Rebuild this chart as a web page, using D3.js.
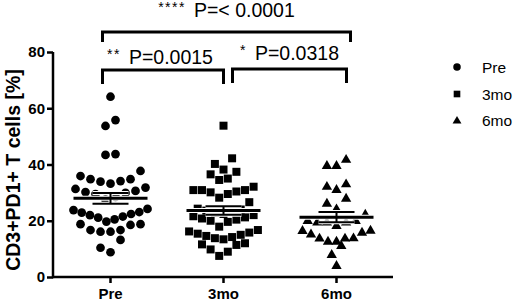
<!DOCTYPE html>
<html><head><meta charset="utf-8">
<script src="https://cdn.jsdelivr.net/npm/d3@7"></script>
<style>body{margin:0;background:#fff}svg{display:block}text{font-family:"Liberation Sans",Arial,sans-serif}</style>
</head><body><svg id="c" width="520" height="303"></svg>
<script>
const categories = ["Pre", "3mo", "6mo"];
const preValues = [64.1, 55.8, 53.7, 43.7, 43.4, 37.7, 35.9, 34.8, 34.8, 34.1, 33.9, 33.2, 31.8, 31.3, 30.6, 30.2, 29.9, 29.5, 28.5, 27.5, 24.2, 23.8, 23.1, 22.9, 22.4, 22.0, 21.5, 21.1, 20.5, 19.7, 18.8, 18.8, 18.5, 16.7, 16.7, 16.1, 16.1, 13.2, 10.4, 8.8];
const mo3Values = [53.8, 42.2, 40.2, 38.2, 37.4, 36.5, 35.0, 34.5, 32.1, 30.9, 30.9, 30.9, 30.4, 30.1, 29.5, 28.2, 26.6, 24.3, 24.0, 23.6, 23.2, 22.8, 22.4, 22.0, 21.6, 21.2, 20.8, 20.4, 20.0, 19.6, 17.9, 16.7, 16.2, 15.8, 15.4, 15.0, 14.6, 14.2, 13.8, 13.4, 12.0, 11.6, 11.4, 9.8, 9.0, 7.5];
const mo6Values = [42.0, 39.8, 39.8, 33.3, 32.4, 31.3, 28.2, 26.4, 24.4, 22.5, 20.3, 20.3, 19.7, 19.7, 19.7, 18.5, 16.8, 16.7, 16.1, 15.5, 14.1, 14.0, 14.0, 12.9, 12.9, 11.4, 8.2, 4.3];
const seriesValues = [preValues, mo3Values, mo6Values];
const shapes = ["circle", "square", "triangle"];
const yTicks = [0, 20, 40, 60, 80];
const yTitle = "CD3+PD1+ T cells [%]";
const compFrom = ["Pre", "Pre", "3mo"];
const compTo = ["6mo", "3mo", "6mo"];
const compStars = ["****", "**", "*"];
const compLabels = ["P=< 0.0001", "P=0.0015", "P=0.0318"];

const svg = d3.select("#c");
const font = '"Liberation Sans", Arial, sans-serif';
const x = d3.scaleBand().domain(categories).range([54, 393]);
const cx = c => x(c) + x.bandwidth() / 2;
const y = d3.scaleLinear().domain([0, 80]).range([277, 52]);

const symType = {circle: d3.symbolCircle, square: d3.symbolSquare, triangle: d3.symbolTriangle};
const symSize = {circle: 60, square: 64, triangle: 46};
const spacing = {circle: 10, square: 8.6, triangle: 9.6};
const maxSpan = {circle: 74, square: 74, triangle: 68};

// axes
const yAxis = svg.append("g").attr("transform", "translate(53,0)")
  .call(d3.axisLeft(y).tickValues(yTicks).tickSize(6).tickPadding(2).tickSizeOuter(0));
const xAxis = svg.append("g").attr("transform", "translate(0,277)")
  .call(d3.axisBottom(x).tickSize(6).tickPadding(4).tickSizeOuter(0));
[yAxis, xAxis].forEach(a => {
  a.selectAll("path,line").attr("stroke", "#000").attr("stroke-width", 2.5);
  a.selectAll("text").attr("fill", "#000").attr("font-family", font).attr("font-weight", "bold").attr("font-size", 15);
});
xAxis.select("path.domain").attr("d", "M53,0H393");
yAxis.select("path.domain").attr("d", "M0,52V278.2");
xAxis.selectAll("text").attr("dy", "0.8em");

svg.append("text").attr("transform", "translate(19.5,170) rotate(-90)")
  .attr("text-anchor", "middle").attr("font-family", font).attr("font-weight", "bold")
  .attr("font-size", 19.5).text(yTitle);

// Prism-like row scatter: group close values into rows, smallest in the middle
function rows(values, center, shape) {
  const binH = 4.5;
  const sorted = values.slice().sort((a, b) => b - a);
  const groups = [];
  sorted.forEach(v => {
    const g = groups[groups.length - 1];
    if (g && g[0] - v <= binH) g.push(v); else groups.push([v]);
  });
  const out = [];
  groups.forEach(g => {
    const n = g.length;
    const sp = n > 1 ? Math.min(spacing[shape], maxSpan[shape] / (n - 1)) : 0;
    const slots = d3.range(n).map(j => (j - (n - 1) / 2) * sp)
      .sort((a, b) => Math.abs(a) - Math.abs(b) || a - b);
    const asc = g.slice().sort((a, b) => a - b);
    asc.forEach((v, k) => out.push({v, px: center + slots[k], py: y(v)}));
  });
  return out;
}

categories.forEach((c, i) => {
  const shape = shapes[i];
  const pts = rows(seriesValues[i], cx(c), shape);
  const sym = d3.symbol().type(symType[shape]).size(symSize[shape]);
  svg.append("g").selectAll("path").data(pts).join("path")
    .attr("d", sym).attr("transform", d => `translate(${d.px},${d.py + (shape === "triangle" ? 1 : 0)})`)
    .attr("fill", "#000");
  const vals = seriesValues[i];
  const m = d3.mean(vals), sem = d3.deviation(vals) / Math.sqrt(vals.length);
  const g = svg.append("g");
  const cxx = cx(c);
  const segs = [
    [cxx - 37, y(m), cxx + 37, y(m), 3],
    [cxx - 18, y(m + sem), cxx + 18, y(m + sem), 2],
    [cxx - 18, y(m - sem), cxx + 18, y(m - sem), 2],
    [cxx, y(m + sem), cxx, y(m - sem), 2]
  ];
  segs.forEach(s => g.append("line").attr("x1", s[0]).attr("y1", s[1]).attr("x2", s[2]).attr("y2", s[3])
    .attr("stroke", "#fff").attr("stroke-width", s[4] + 2));
  segs.forEach(s => g.append("line").attr("x1", s[0]).attr("y1", s[1]).attr("x2", s[2]).attr("y2", s[3])
    .attr("stroke", "#000").attr("stroke-width", s[4]));
});

// significance brackets
const bracketY = [32, 70, 69];
const bracketDrop = [10, 14, 14];
const bracketInset = [[-8, 14], [-8, 0], [9, 10]];
const labelY = [17, 64, 60];
const labelShift = [0, -3, 0];
compFrom.forEach((f, i) => {
  const x1 = cx(f) + bracketInset[i][0], x2 = cx(compTo[i]) + bracketInset[i][1];
  const yy = bracketY[i];
  svg.append("path").attr("d", `M${x1},${yy + bracketDrop[i]}V${yy}H${x2}V${yy + bracketDrop[i]}`)
    .attr("fill", "none").attr("stroke", "#000").attr("stroke-width", 3);
  const t = svg.append("text").attr("x", (x1 + x2) / 2 + labelShift[i]).attr("y", labelY[i])
    .attr("text-anchor", "middle").attr("font-family", font).attr("font-size", 19.5).attr("fill", "#000");
  t.append("tspan").attr("font-size", 14).attr("letter-spacing", 1.5).attr("dy", -5).text(compStars[i]);
  t.append("tspan").attr("dy", 5).attr("dx", 8).text(compLabels[i]);
});

// legend
const legY = [67, 94, 120];
categories.forEach((c, i) => {
  svg.append("path").attr("d", d3.symbol().type(symType[shapes[i]]).size(i === 2 ? 34 : 44)())
    .attr("transform", `translate(457,${legY[i] + (i === 2 ? 1 : 0)})`).attr("fill", "#000");
  svg.append("text").attr("x", 482).attr("y", legY[i] + 5.5).attr("font-family", font)
    .attr("font-size", 15.5).attr("fill", "#000").text(c);
});
</script></body></html>
